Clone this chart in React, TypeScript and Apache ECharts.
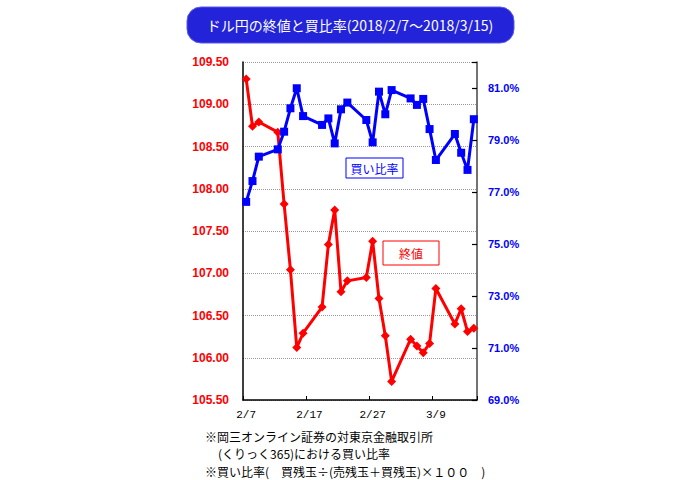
import React, { useEffect, useRef } from "react";
import * as echarts from "echarts";

const dates = [
  "2/7", "2/8", "2/9", "2/10", "2/11", "2/12", "2/13", "2/14", "2/15", "2/16",
  "2/17", "2/18", "2/19", "2/20", "2/21", "2/22", "2/23", "2/24", "2/25", "2/26",
  "2/27", "2/28", "3/1", "3/2", "3/3", "3/4", "3/5", "3/6", "3/7", "3/8",
  "3/9", "3/10", "3/11", "3/12", "3/13", "3/14", "3/15",
];

const tradeDates = [
  "2/7", "2/8", "2/9", "2/12", "2/13", "2/14", "2/15", "2/16", "2/19", "2/20",
  "2/21", "2/22", "2/23", "2/26", "2/27", "2/28", "3/1", "3/2", "3/5", "3/6",
  "3/7", "3/8", "3/9", "3/12", "3/13", "3/14", "3/15",
];

const closeRate = [
  109.3, 108.74, 108.79, 108.67, 107.82, 107.04, 106.12, 106.29, 106.6, 107.34,
  107.75, 106.78, 106.91, 106.95, 107.38, 106.7, 106.26, 105.72, 106.22, 106.14,
  106.06, 106.17, 106.82, 106.4, 106.58, 106.31, 106.35,
];

const buyRatio = [
  76.62, 77.42, 78.36, 78.64, 79.32, 80.22, 80.99, 79.92, 79.58, 79.83,
  78.87, 80.18, 80.44, 79.77, 78.91, 80.86, 79.99, 80.92, 80.6, 80.35,
  80.58, 79.42, 78.23, 79.23, 78.51, 77.85, 79.8,
];

const titleText = "ドル円の終値と買比率(2018/2/7～2018/3/15)";
const notes = [
  "※岡三オンライン証券の対東京金融取引所",
  "(くりっく365)における買い比率",
  "※買い比率(　買残玉÷(売残玉＋買残玉)×１００　)",
];

export default function App() {
  const ref = useRef<HTMLDivElement>(null);

  useEffect(() => {
    document.body.style.margin = "0";
    const chart = echarts.init(ref.current!, null, { renderer: "svg" });
    const cjk = "'Noto Sans CJK JP', sans-serif";
    chart.setOption({
      animation: false,
      backgroundColor: "#ffffff",
      grid: { left: 243, right: 223, top: 62, bottom: 80, containLabel: false },
      xAxis: {
        type: "category",
        data: dates,
        boundaryGap: true,
        axisLine: { lineStyle: { color: "#000", width: 1.5 } },
        axisTick: { show: true, inside: true, length: 4, interval: 9, lineStyle: { color: "#000" } },
        axisLabel: {
          interval: 9,
          color: "#000",
          fontSize: 11,
          fontFamily: "'Liberation Mono', monospace",
          margin: 9,
        },
        splitLine: { show: false },
      },
      yAxis: [
        {
          type: "value",
          min: 105.5,
          max: 109.5,
          interval: 0.5,
          position: "left",
          axisLine: { show: true, lineStyle: { color: "#000", width: 1.5 } },
          axisTick: { show: false },
          axisLabel: {
            color: "#ff0000",
            fontWeight: "bold",
            fontSize: 12,
            fontFamily: "'Liberation Sans', Arial, sans-serif",
            margin: 14,
            formatter: (v: number) => v.toFixed(2),
          },
          splitLine: { show: true, lineStyle: { color: "#999", type: "dotted", width: 1 } },
        },
        {
          type: "value",
          min: 69,
          max: 82,
          interval: 2,
          position: "right",
          axisLine: { show: true, lineStyle: { color: "#444", width: 1.5 } },
          axisTick: { show: true, inside: true, length: 5, lineStyle: { color: "#000", width: 1.2 } },
          axisLabel: {
            color: "#0000ff",
            fontWeight: "bold",
            fontSize: 11,
            fontFamily: "'Liberation Sans', Arial, sans-serif",
            margin: 11,
            formatter: (v: number) => (v > 81.5 ? "" : v.toFixed(1) + "%"),
          },
          splitLine: { show: false },
        },
      ],
      series: [
        {
          name: "終値",
          type: "line",
          yAxisIndex: 0,
          data: tradeDates.map((d, i) => [d, closeRate[i]]),
          symbol: "diamond",
          symbolSize: 9,
          showAllSymbol: true,
          lineStyle: { color: "#ff0000", width: 3 },
          itemStyle: { color: "#ff0000" },
        },
        {
          name: "買い比率",
          type: "line",
          yAxisIndex: 1,
          data: tradeDates.map((d, i) => [d, buyRatio[i]]),
          symbol: "rect",
          symbolSize: 8,
          showAllSymbol: true,
          lineStyle: { color: "#0000ff", width: 3 },
          itemStyle: { color: "#0000ff" },
        },
      ],
      graphic: [
        {
          type: "rect",
          z: 100,
          shape: { x: 187, y: 7, width: 327, height: 36, r: 14 },
          style: { fill: "#2323d9", stroke: "#5a5ae6", lineWidth: 1 },
        },
        {
          type: "text",
          z: 101,
          x: 350,
          y: 25,
          style: {
            text: titleText,
            fill: "#ffffff",
            font: `14px ${cjk}`,
            textAlign: "center",
            textVerticalAlign: "middle",
          },
        },
        {
          type: "rect",
          z: 100,
          shape: { x: 346, y: 158, width: 57, height: 20 },
          style: { fill: "#ffffff", stroke: "#0000ff", lineWidth: 1 },
        },
        {
          type: "text",
          z: 101,
          x: 374.5,
          y: 168,
          style: {
            text: "買い比率",
            fill: "#0000ff",
            font: `12px ${cjk}`,
            textAlign: "center",
            textVerticalAlign: "middle",
          },
        },
        {
          type: "rect",
          z: 100,
          shape: { x: 383, y: 241, width: 56, height: 24 },
          style: { fill: "#ffffff", stroke: "#ff0000", lineWidth: 1 },
        },
        {
          type: "text",
          z: 101,
          x: 411,
          y: 253,
          style: {
            text: "終値",
            fill: "#ff0000",
            font: `12px ${cjk}`,
            textAlign: "center",
            textVerticalAlign: "middle",
          },
        },
        {
          type: "text",
          z: 101,
          x: 205,
          y: 436,
          style: { text: notes[0], fill: "#000", font: `12px ${cjk}`, textVerticalAlign: "middle" },
        },
        {
          type: "text",
          z: 101,
          x: 218,
          y: 453,
          style: { text: notes[1], fill: "#000", font: `12px ${cjk}`, textVerticalAlign: "middle" },
        },
        {
          type: "text",
          z: 101,
          x: 205,
          y: 471,
          style: { text: notes[2], fill: "#000", font: `12px ${cjk}`, textVerticalAlign: "middle" },
        },
      ],
    });
    return () => chart.dispose();
  }, []);

  return <div ref={ref} style={{ width: 700, height: 480 }} />;
}
